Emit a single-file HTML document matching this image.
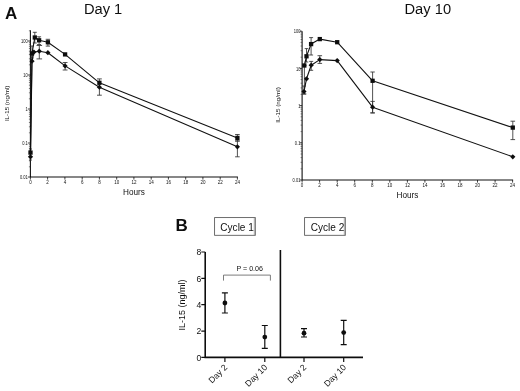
<!DOCTYPE html>
<html><head><meta charset="utf-8"><title>IL-15 pharmacokinetics</title>
<style>
html,body{margin:0;padding:0;background:#fff;}
body{width:520px;height:391px;overflow:hidden;font-family:"Liberation Sans",sans-serif;}
svg{display:block;}
text{font-family:"Liberation Sans",sans-serif;fill:#111;}
</style></head><body>
<svg width="520" height="391" viewBox="0 0 520 391">
<defs><filter id="soft" x="0" y="0" width="520" height="391" filterUnits="userSpaceOnUse"><feGaussianBlur stdDeviation="0.45"/></filter></defs>
<rect width="520" height="391" fill="#fff"/>
<g filter="url(#soft)">
<rect width="520" height="391" fill="#fff"/>

<g stroke="#111" fill="none">
<path d="M30.4 30.2V177.0H237.9" stroke-width="1.1"/>
<path d="M27.8 41.0H30.4M27.8 75.0H30.4M27.8 109.0H30.4M27.8 143.0H30.4M27.8 177.0H30.4" stroke-width="0.8"/>
<path d="M28.9 30.8H30.4M28.9 64.8H30.4M28.9 58.8H30.4M28.9 54.5H30.4M28.9 51.2H30.4M28.9 48.5H30.4M28.9 46.3H30.4M28.9 44.3H30.4M28.9 42.6H30.4M28.9 98.8H30.4M28.9 92.8H30.4M28.9 88.5H30.4M28.9 85.2H30.4M28.9 82.5H30.4M28.9 80.3H30.4M28.9 78.3H30.4M28.9 76.6H30.4M28.9 132.8H30.4M28.9 126.8H30.4M28.9 122.5H30.4M28.9 119.2H30.4M28.9 116.5H30.4M28.9 114.3H30.4M28.9 112.3H30.4M28.9 110.6H30.4M28.9 166.8H30.4M28.9 160.8H30.4M28.9 156.5H30.4M28.9 153.2H30.4M28.9 150.5H30.4M28.9 148.3H30.4M28.9 146.3H30.4M28.9 144.6H30.4" stroke-width="0.6" stroke="#333"/>
<path d="M30.4 177.0v2.6M47.6 177.0v2.6M64.9 177.0v2.6M82.2 177.0v2.6M99.4 177.0v2.6M116.7 177.0v2.6M133.9 177.0v2.6M151.2 177.0v2.6M168.4 177.0v2.6M185.7 177.0v2.6M202.9 177.0v2.6M220.2 177.0v2.6M237.4 177.0v2.6" stroke-width="0.8"/>
</g>
<text x="21.05" y="43.1" font-size="4.6" textLength="6.75" lengthAdjust="spacingAndGlyphs" fill="#111">100</text>
<text x="23.30" y="77.1" font-size="4.6" textLength="4.50" lengthAdjust="spacingAndGlyphs" fill="#111">10</text>
<text x="25.55" y="111.1" font-size="4.6" textLength="2.25" lengthAdjust="spacingAndGlyphs" fill="#111">1</text>
<text x="22.17" y="145.1" font-size="4.6" textLength="5.63" lengthAdjust="spacingAndGlyphs" fill="#111">0.1</text>
<text x="19.92" y="179.1" font-size="4.6" textLength="7.88" lengthAdjust="spacingAndGlyphs" fill="#111">0.01</text>
<text x="30.4" y="183.9" font-size="4.5" text-anchor="middle" fill="#111">0</text>
<text x="47.6" y="183.9" font-size="4.5" text-anchor="middle" fill="#111">2</text>
<text x="64.9" y="183.9" font-size="4.5" text-anchor="middle" fill="#111">4</text>
<text x="82.2" y="183.9" font-size="4.5" text-anchor="middle" fill="#111">6</text>
<text x="99.4" y="183.9" font-size="4.5" text-anchor="middle" fill="#111">8</text>
<text x="116.7" y="183.9" font-size="4.5" text-anchor="middle" fill="#111">10</text>
<text x="133.9" y="183.9" font-size="4.5" text-anchor="middle" fill="#111">12</text>
<text x="151.2" y="183.9" font-size="4.5" text-anchor="middle" fill="#111">14</text>
<text x="168.4" y="183.9" font-size="4.5" text-anchor="middle" fill="#111">16</text>
<text x="185.7" y="183.9" font-size="4.5" text-anchor="middle" fill="#111">18</text>
<text x="202.9" y="183.9" font-size="4.5" text-anchor="middle" fill="#111">20</text>
<text x="220.2" y="183.9" font-size="4.5" text-anchor="middle" fill="#111">22</text>
<text x="237.4" y="183.9" font-size="4.5" text-anchor="middle" fill="#111">24</text>
<text x="103.1" y="13.6" font-size="14.7" text-anchor="middle">Day 1</text>
<text x="134" y="195.2" font-size="8.2" text-anchor="middle">Hours</text>
<text transform="translate(9.0 103.4) rotate(-90)" font-size="6.25" text-anchor="middle">IL-15 (ng/ml)</text>
<path d="M34.8 32.3V43.0M32.8 32.3h4.0M32.8 43.0h4.0M39.1 36.8V44.5M37.1 36.8h4.0M37.1 44.5h4.0M47.9 39.3V46.1M45.7 39.3h4.4M45.7 46.1h4.4M39.3 45.5V58.9M36.5 45.5h5.6M36.5 58.9h5.6M32.0 46.0V58.0M30.4 46.0h3.2M30.4 58.0h3.2M65.1 62.5V70.0M62.7 62.5h4.8M62.7 70.0h4.8M99.4 78.9V95.2M97.0 78.9h4.8M97.0 95.2h4.8M237.4 134.5V141.0M235.1 134.5h4.6M235.1 141.0h4.6M237.4 141.0V156.8M235.1 141.0h4.6M235.1 156.8h4.6M30.5 149.0V160.0M29.0 149.0h3.0M29.0 160.0h3.0" stroke="#333" stroke-width="0.85" fill="none"/>
<polyline points="30.5,152.6 32.0,53.4 34.8,37.5 39.1,40.3 47.9,42.3 65.1,54.4 99.4,82.8 237.4,137.9" fill="none" stroke="#111" stroke-width="1.1" stroke-linejoin="round"/>
<polyline points="30.5,156.8 32.0,61.2 33.9,52.1 39.3,51.2 47.9,52.7 65.1,65.9 99.4,87.2 237.4,146.8" fill="none" stroke="#111" stroke-width="1.1" stroke-linejoin="round"/>
<rect x="28.35" y="150.45" width="4.3" height="4.3" fill="#111"/>
<rect x="29.85" y="51.25" width="4.3" height="4.3" fill="#111"/>
<rect x="32.65" y="35.35" width="4.3" height="4.3" fill="#111"/>
<rect x="36.95" y="38.15" width="4.3" height="4.3" fill="#111"/>
<rect x="45.75" y="40.15" width="4.3" height="4.3" fill="#111"/>
<rect x="62.95" y="52.25" width="4.3" height="4.3" fill="#111"/>
<rect x="97.25" y="80.65" width="4.3" height="4.3" fill="#111"/>
<rect x="235.25" y="135.75" width="4.3" height="4.3" fill="#111"/>
<path d="M30.5 154.2L33.1 156.8L30.5 159.4L27.9 156.8Z" fill="#111"/>
<path d="M32.0 58.6L34.6 61.2L32.0 63.8L29.4 61.2Z" fill="#111"/>
<path d="M33.9 49.5L36.5 52.1L33.9 54.7L31.3 52.1Z" fill="#111"/>
<path d="M39.3 48.6L41.9 51.2L39.3 53.8L36.7 51.2Z" fill="#111"/>
<path d="M47.9 50.1L50.5 52.7L47.9 55.3L45.3 52.7Z" fill="#111"/>
<path d="M65.1 63.3L67.7 65.9L65.1 68.5L62.5 65.9Z" fill="#111"/>
<path d="M99.4 84.6L102.0 87.2L99.4 89.8L96.8 87.2Z" fill="#111"/>
<path d="M237.4 144.2L240.0 146.8L237.4 149.4L234.8 146.8Z" fill="#111"/>
<g stroke="#111" fill="none">
<path d="M302.1 31.2V180.0H513.1" stroke-width="1.1"/>
<path d="M299.5 31.2H302.1M299.5 68.4H302.1M299.5 105.6H302.1M299.5 142.8H302.1M299.5 180.0H302.1" stroke-width="0.8"/>
<path d="M300.6 57.2H302.1M300.6 50.7H302.1M300.6 46.0H302.1M300.6 42.4H302.1M300.6 39.5H302.1M300.6 37.0H302.1M300.6 34.8H302.1M300.6 32.9H302.1M300.6 94.4H302.1M300.6 87.9H302.1M300.6 83.2H302.1M300.6 79.6H302.1M300.6 76.7H302.1M300.6 74.2H302.1M300.6 72.0H302.1M300.6 70.1H302.1M300.6 131.6H302.1M300.6 125.1H302.1M300.6 120.4H302.1M300.6 116.8H302.1M300.6 113.9H302.1M300.6 111.4H302.1M300.6 109.2H302.1M300.6 107.3H302.1M300.6 168.8H302.1M300.6 162.3H302.1M300.6 157.6H302.1M300.6 154.0H302.1M300.6 151.1H302.1M300.6 148.6H302.1M300.6 146.4H302.1M300.6 144.5H302.1" stroke-width="0.6" stroke="#333"/>
<path d="M302.1 180.0v2.6M319.6 180.0v2.6M337.2 180.0v2.6M354.7 180.0v2.6M372.3 180.0v2.6M389.8 180.0v2.6M407.4 180.0v2.6M424.9 180.0v2.6M442.4 180.0v2.6M460.0 180.0v2.6M477.5 180.0v2.6M495.1 180.0v2.6M512.6 180.0v2.6" stroke-width="0.8"/>
</g>
<text x="293.75" y="33.3" font-size="4.6" textLength="6.75" lengthAdjust="spacingAndGlyphs" fill="#111">100</text>
<text x="296.00" y="70.5" font-size="4.6" textLength="4.50" lengthAdjust="spacingAndGlyphs" fill="#111">10</text>
<text x="298.25" y="107.7" font-size="4.6" textLength="2.25" lengthAdjust="spacingAndGlyphs" fill="#111">1</text>
<text x="294.87" y="144.9" font-size="4.6" textLength="5.63" lengthAdjust="spacingAndGlyphs" fill="#111">0.1</text>
<text x="292.62" y="182.1" font-size="4.6" textLength="7.88" lengthAdjust="spacingAndGlyphs" fill="#111">0.01</text>
<text x="302.1" y="186.9" font-size="4.5" text-anchor="middle" fill="#111">0</text>
<text x="319.6" y="186.9" font-size="4.5" text-anchor="middle" fill="#111">2</text>
<text x="337.2" y="186.9" font-size="4.5" text-anchor="middle" fill="#111">4</text>
<text x="354.7" y="186.9" font-size="4.5" text-anchor="middle" fill="#111">6</text>
<text x="372.3" y="186.9" font-size="4.5" text-anchor="middle" fill="#111">8</text>
<text x="389.8" y="186.9" font-size="4.5" text-anchor="middle" fill="#111">10</text>
<text x="407.4" y="186.9" font-size="4.5" text-anchor="middle" fill="#111">12</text>
<text x="424.9" y="186.9" font-size="4.5" text-anchor="middle" fill="#111">14</text>
<text x="442.4" y="186.9" font-size="4.5" text-anchor="middle" fill="#111">16</text>
<text x="460.0" y="186.9" font-size="4.5" text-anchor="middle" fill="#111">18</text>
<text x="477.5" y="186.9" font-size="4.5" text-anchor="middle" fill="#111">20</text>
<text x="495.1" y="186.9" font-size="4.5" text-anchor="middle" fill="#111">22</text>
<text x="512.6" y="186.9" font-size="4.5" text-anchor="middle" fill="#111">24</text>
<text x="427.8" y="13.6" font-size="14.7" text-anchor="middle">Day 10</text>
<text x="407.5" y="198.3" font-size="8.2" text-anchor="middle">Hours</text>
<text transform="translate(279.5 105) rotate(-90)" font-size="6.25" text-anchor="middle">IL-15 (ng/ml)</text>
<path d="M311.1 37.6V55.0M309.1 37.6h4.0M309.1 55.0h4.0M306.5 48.6V62.0M304.7 48.6h3.6M304.7 62.0h3.6M311.2 61.4V70.3M309.2 61.4h4.0M309.2 70.3h4.0M319.8 55.7V63.4M317.5 55.7h4.6M317.5 63.4h4.6M372.6 72.0V112.9M370.4 72.0h4.4M370.4 112.9h4.4M372.6 101.4V112.9M370.4 101.4h4.4M370.4 112.9h4.4M512.8 121.2V139.6M510.5 121.2h4.6M510.5 139.6h4.6M304.0 86.0V94.0M302.0 86.0h4.0M302.0 94.0h4.0M304.4 65.5V94.0M302.4 65.5h4.0M302.4 94.0h4.0" stroke="#333" stroke-width="0.85" fill="none"/>
<polyline points="304.3,65.5 306.5,56.3 311.1,44.1 319.8,39.1 337.2,42.2 372.6,80.8 512.8,127.6" fill="none" stroke="#111" stroke-width="1.1" stroke-linejoin="round"/>
<polyline points="304.0,91.5 306.5,78.8 311.2,65.2 319.8,59.6 337.2,60.6 372.6,107.2 512.8,156.8" fill="none" stroke="#111" stroke-width="1.1" stroke-linejoin="round"/>
<rect x="302.15" y="63.35" width="4.3" height="4.3" fill="#111"/>
<rect x="304.35" y="54.15" width="4.3" height="4.3" fill="#111"/>
<rect x="308.95" y="41.95" width="4.3" height="4.3" fill="#111"/>
<rect x="317.65" y="36.95" width="4.3" height="4.3" fill="#111"/>
<rect x="335.05" y="40.05" width="4.3" height="4.3" fill="#111"/>
<rect x="370.45" y="78.65" width="4.3" height="4.3" fill="#111"/>
<rect x="510.65" y="125.45" width="4.3" height="4.3" fill="#111"/>
<path d="M304.0 88.9L306.6 91.5L304.0 94.1L301.4 91.5Z" fill="#111"/>
<path d="M306.5 76.2L309.1 78.8L306.5 81.4L303.9 78.8Z" fill="#111"/>
<path d="M311.2 62.6L313.8 65.2L311.2 67.8L308.6 65.2Z" fill="#111"/>
<path d="M319.8 57.0L322.4 59.6L319.8 62.2L317.2 59.6Z" fill="#111"/>
<path d="M337.2 58.0L339.8 60.6L337.2 63.2L334.6 60.6Z" fill="#111"/>
<path d="M372.6 104.6L375.2 107.2L372.6 109.8L370.0 107.2Z" fill="#111"/>
<path d="M512.8 154.2L515.4 156.8L512.8 159.4L510.2 156.8Z" fill="#111"/>
<text x="4.9" y="18.5" font-size="17" font-weight="bold" fill="#000">A</text>
<text x="175.5" y="231.3" font-size="17" font-weight="bold" fill="#000">B</text>
<rect x="214.6" y="217.6" width="40.7" height="17.7" fill="#fff" stroke="#555" stroke-width="0.85"/>
<path d="M254.3 218V235" stroke="#777" stroke-width="0.6"/>
<text x="237.1" y="230.8" font-size="10.05" text-anchor="middle">Cycle 1</text>
<rect x="304.6" y="217.6" width="40.7" height="17.7" fill="#fff" stroke="#555" stroke-width="0.85"/>
<path d="M344.3 218V235" stroke="#777" stroke-width="0.6"/>
<text x="327.5" y="230.8" font-size="10.05" text-anchor="middle">Cycle 2</text>
<g stroke="#111" fill="none" stroke-width="1.6">
<path d="M205.2 252.0V357.4H363"/>
<path d="M280.4 250V357.4"/>
<path d="M201.3 357.4H205.2M201.3 331.1H205.2M201.3 304.7H205.2M201.3 278.4H205.2M201.3 252.0H205.2M224.9 357.4v4.6M264.8 357.4v4.6M304 357.4v4.6M343.7 357.4v4.6" stroke-width="1.2"/>
</g>
<text x="201.2" y="360.5" font-size="8.6" text-anchor="end">0</text>
<text x="201.2" y="334.2" font-size="8.6" text-anchor="end">2</text>
<text x="201.2" y="307.8" font-size="8.6" text-anchor="end">4</text>
<text x="201.2" y="281.5" font-size="8.6" text-anchor="end">6</text>
<text x="201.2" y="255.1" font-size="8.6" text-anchor="end">8</text>
<text transform="translate(184.7 305) rotate(-90)" font-size="9" text-anchor="middle">IL-15 (ng/ml)</text>
<path d="M224.9 292.8V313M221.9 292.8h6M221.9 313h6M264.8 325.5V348.4M261.8 325.5h6M261.8 348.4h6M304 328.7V337M301 328.7h6M301 337h6M343.7 320.3V344.6M340.7 320.3h6M340.7 344.6h6" stroke="#111" stroke-width="1.2" fill="none"/>
<circle cx="224.9" cy="303" r="2.4" fill="#111"/>
<circle cx="264.8" cy="337.1" r="2.4" fill="#111"/>
<circle cx="304" cy="333.2" r="2.4" fill="#111"/>
<circle cx="343.7" cy="332.6" r="2.4" fill="#111"/>
<text transform="translate(227.9 367.9) rotate(-45)" font-size="8.6" text-anchor="end">Day 2</text>
<text transform="translate(267.8 367.9) rotate(-45)" font-size="8.6" text-anchor="end">Day 10</text>
<text transform="translate(307 367.9) rotate(-45)" font-size="8.6" text-anchor="end">Day 2</text>
<text transform="translate(346.7 367.9) rotate(-45)" font-size="8.6" text-anchor="end">Day 10</text>
<text x="249.7" y="270.8" font-size="7.1" text-anchor="middle" fill="#333">P = 0.06</text>
<path d="M223.5 280.6V275.1H270.4V280.6" stroke="#666" stroke-width="0.85" fill="none"/>
</g></svg></body></html>
